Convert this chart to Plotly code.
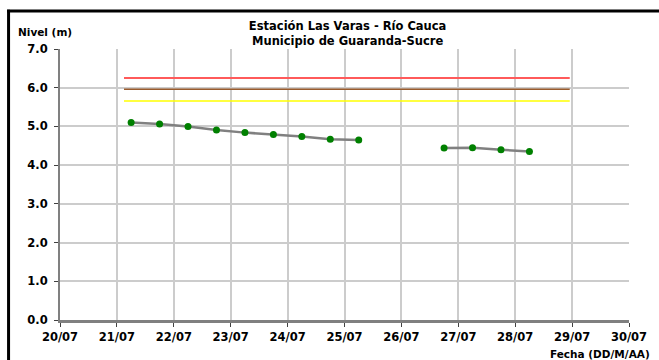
import plotly.graph_objects as go

times = ["2011-07-21 06:00", "2011-07-21 18:00", "2011-07-22 06:00", "2011-07-22 18:00",
         "2011-07-23 06:00", "2011-07-23 18:00", "2011-07-24 06:00", "2011-07-24 18:00",
         "2011-07-25 06:00", "2011-07-25 18:00", "2011-07-26 06:00", "2011-07-26 18:00",
         "2011-07-27 06:00", "2011-07-27 18:00", "2011-07-28 06:00"]
nivel = [5.10, 5.06, 5.00, 4.91, 4.84, 4.79, 4.74, 4.67, 4.65, None, None, 4.44, 4.45, 4.40, 4.35]

umbral_x = ["2011-07-21 03:00", "2011-07-28 23:00"]
umbral_rojo = 6.25
umbral_naranja = 5.96
umbral_amarillo = 5.66

x_range = ["2011-07-20", "2011-07-30"]
y_ticks = [0, 1, 2, 3, 4, 5, 6, 7]
y_labels = ["0.0", "1.0", "2.0", "3.0", "4.0", "5.0", "6.0", "7.0"]

FONT = "DejaVu Sans"

fig = go.Figure()
fig.add_trace(go.Scatter(x=umbral_x, y=[umbral_rojo] * 2, mode="lines",
                         line=dict(color="#ff5a5a", width=2), hoverinfo="skip"))
fig.add_trace(go.Scatter(x=umbral_x, y=[umbral_naranja] * 2, mode="lines",
                         line=dict(color="#9a5b2c", width=1.5), hoverinfo="skip"))
fig.add_trace(go.Scatter(x=umbral_x, y=[umbral_amarillo] * 2, mode="lines",
                         line=dict(color="#ffff00", width=1.5), hoverinfo="skip"))
fig.add_trace(go.Scatter(x=times, y=nivel, mode="lines+markers", connectgaps=False,
                         line=dict(color="#808080", width=2.5),
                         marker=dict(color="#008000", size=7)))

fig.update_layout(
    width=659, height=360,
    margin=dict(l=60, r=24, t=49, b=40),
    paper_bgcolor="white", plot_bgcolor="white",
    showlegend=False,
    font=dict(family=FONT, color="black"),
    title=dict(text="<b>Estación Las Varas - Río Cauca<br>Municipio de Guaranda-Sucre</b>",
               x=0.5275, xanchor="center", y=0.917, yanchor="middle",
               font=dict(family=FONT, size=11.5, color="black")),
    xaxis=dict(type="date", range=x_range, dtick=86400000, tickformat="%d/%m",
               tick0="2011-07-20",
               showgrid=True, gridcolor="#cccccc", gridwidth=1.5,
               showline=True, linecolor="#808080", linewidth=2.5,
               ticks="outside", ticklen=4, tickcolor="#404040", tickwidth=1,
               tickfont=dict(family=FONT, size=11.5, color="black", weight="bold"),
               zeroline=False, fixedrange=True),
    yaxis=dict(range=[0, 7], tickvals=y_ticks, ticktext=y_labels,
               showgrid=True, gridcolor="#cccccc", gridwidth=1.5,
               showline=True, linecolor="#808080", linewidth=2,
               ticks="outside", ticklen=4, tickcolor="#404040", tickwidth=1,
               ticklabelstandoff=4,
               tickfont=dict(family=FONT, size=11.5, color="black", weight="bold"),
               zeroline=False, fixedrange=True),
    annotations=[
        dict(text="<b>Nivel (m)</b>", xref="paper", yref="paper", x=-0.078, y=1.063,
             xanchor="left", yanchor="middle", showarrow=False,
             font=dict(family=FONT, size=10.5, color="black")),
        dict(text="<b>Fecha (DD/M/AA)</b>", xref="paper", yref="paper", x=1.04, y=-0.125,
             xanchor="right", yanchor="middle", showarrow=False,
             font=dict(family=FONT, size=10.5, color="black")),
    ],
    shapes=[
        dict(type="line", xref="paper", yref="paper", x0=-0.0904, x1=-0.0904, y0=1.145, y1=-0.16,
             line=dict(color="black", width=3), layer="above"),
        dict(type="line", xref="paper", yref="paper", x0=-0.093, x1=1.06, y0=1.14, y1=1.14,
             line=dict(color="black", width=3), layer="above"),
    ],
)

fig.write_html("out.html", config={"displayModeBar": False},
               post_script="document.body.style.margin='0';document.body.style.overflow='hidden';")
